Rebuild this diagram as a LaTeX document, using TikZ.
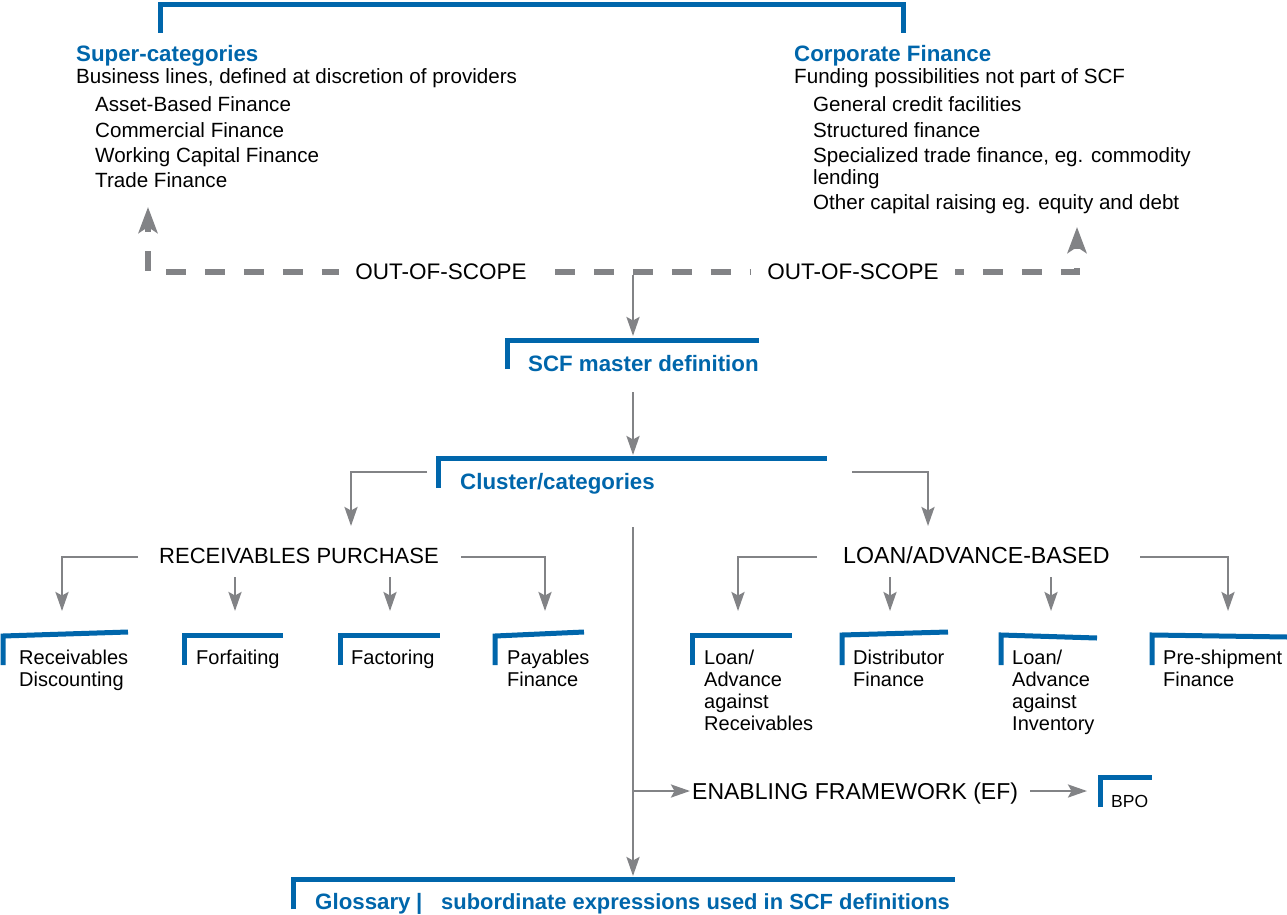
\documentclass[tikz,border=0pt]{standalone}
\usepackage{fontspec}
\setmainfont{Liberation Sans}
\usetikzlibrary{arrows.meta}
\definecolor{scfblue}{RGB}{0,102,171}
\definecolor{scfgray}{RGB}{130,131,134}
\begin{document}
\begin{tikzpicture}[x=1pt,y=-1pt,
  txt/.style={anchor=base west,inner sep=0pt,font=\fontsize{20}{24}\selectfont},
  lst/.style={anchor=base west,inner sep=0pt,font=\fontsize{20.6}{24}\selectfont},
  captxt/.style={anchor=base west,inner sep=0pt,font=\fontsize{22.5}{26}\selectfont},
  head/.style={anchor=base west,inner sep=0pt,text=scfblue,font=\fontsize{22.3}{26}\selectfont\bfseries},
  bbar/.style={draw=scfblue,line width=5pt,line join=miter,line cap=butt},
  garrow/.style={draw=scfgray,line width=2.5pt,-{Stealth[length=19pt,width=13pt,inset=3.5pt]}},
  dline/.style={draw=scfgray,line width=6pt,dash pattern=on 20pt off 18.9pt,dash phase=13pt,line join=miter,
     {Stealth[length=26pt,width=19pt,inset=6pt]}-{Stealth[length=26pt,width=19pt,inset=6pt]}},
  oos/.style={fill=white,inner xsep=16pt,inner ysep=4pt,font=\fontsize{22.5}{26}\selectfont}
]
\useasboundingbox (0,0) rectangle (1287,915);

% ---------- top bracket and super-categories ----------
\draw[bbar] (160,33) -- (160,4.5) -- (903,4.5) -- (903,33);

\node[head] (sc) at (76,62) {Super-categories};
\node[lst] (scd) at (76,84) {Business lines, defined at discretion of providers};
\node[lst] (sc1) at (95,112) {Asset-Based Finance};
\node[lst] (sc2) at (95,137) {Commercial Finance};
\node[lst] (sc3) at (95,162) {Working Capital Finance};
\node[lst] (sc4) at (95,187) {Trade Finance};

\node[head] (cf) at (794,62) {Corporate Finance};
\node[lst] (cfd) at (794,84) {Funding possibilities not part of SCF};
\node[lst] (cf1) at (813,112) {General credit facilities};
\node[lst] (cf2) at (813,137) {Structured finance};
\node[lst] (cf3) at (813,162) {Specialized trade finance, eg. commodity};
\node[lst] (cf3b) at (813,184) {lending};
\node[lst] (cf4) at (813,209) {Other capital raising eg. equity and debt};

% ---------- out-of-scope dashed line ----------
\coordinate (ltip) at (148,207);
\coordinate (lcorner) at (148,272);
\coordinate (rcorner) at (1077,272);
\coordinate (rtip) at (1077,227);
\draw[dline] (ltip) -- (lcorner) -- (rcorner) -- (rtip);
\node[oos] (oos1) at (441,272) {OUT-OF-SCOPE};
\node[oos] (oos2) at (853,272) {OUT-OF-SCOPE};

% ---------- SCF master definition ----------
\coordinate (m1) at (633,275);
\coordinate (m2) at (633,336);
\draw[garrow] (m1) -- (m2);
\draw[bbar] (507,369) -- (507,340) -- (759,340);
\node[head] (master) at (528,371) {SCF master definition};

\coordinate (m3) at (633,392);
\coordinate (m4) at (633,455);
\draw[garrow] (m3) -- (m4);

% ---------- cluster/categories ----------
\draw[bbar] (438,488) -- (438,458.5) -- (827,458.5);
\node[head] (cluster) at (460,489) {Cluster/categories};

\coordinate (cl1) at (427,472);
\coordinate (cl2) at (351,526);
\draw[garrow] (cl1) -| (cl2);
\coordinate (cr1) at (852,472);
\coordinate (cr2) at (928,526);
\draw[garrow] (cr1) -| (cr2);

% ---------- receivables purchase ----------
\node[captxt,font=\fontsize{22}{26}\selectfont] (rp) at (159,563) {RECEIVABLES PURCHASE};
\coordinate (rpl1) at (138,557);
\coordinate (rpl2) at (62,611);
\draw[garrow] (rpl1) -| (rpl2);
\coordinate (rpr1) at (461,557);
\coordinate (rpr2) at (545,611);
\draw[garrow] (rpr1) -| (rpr2);
\coordinate (rpa1) at (235,577);
\coordinate (rpa2) at (235,611);
\draw[garrow] (rpa1) -- (rpa2);
\coordinate (rpb1) at (390,577);
\coordinate (rpb2) at (390,611);
\draw[garrow] (rpb1) -- (rpb2);

\draw[bbar] (3,665) -- (3,636) -- (128,632);
\node[txt] (rd1) at (19,664) {Receivables};
\node[txt] (rd2) at (19,686) {Discounting};
\draw[bbar] (184,665) -- (184,635) -- (283,635);
\node[txt] (forf) at (196,664) {Forfaiting};
\draw[bbar] (340,665) -- (340,635) -- (440,635);
\node[txt] (fact) at (351,664) {Factoring};
\draw[bbar] (495,665) -- (495,636) -- (584,632);
\node[txt] (pf1) at (507,664) {Payables};
\node[txt] (pf2) at (507,686) {Finance};

% ---------- loan/advance-based ----------
\node[captxt,font=\fontsize{23.2}{26}\selectfont] (lab) at (843,563) {LOAN/ADVANCE-BASED};
\coordinate (lal1) at (817,557);
\coordinate (lal2) at (738,611);
\draw[garrow] (lal1) -| (lal2);
\coordinate (lar1) at (1140,557);
\coordinate (lar2) at (1228,611);
\draw[garrow] (lar1) -| (lar2);
\coordinate (laa1) at (890,577);
\coordinate (laa2) at (890,611);
\draw[garrow] (laa1) -- (laa2);
\coordinate (lab1) at (1051,577);
\coordinate (lab2) at (1051,611);
\draw[garrow] (lab1) -- (lab2);

\draw[bbar] (692,665) -- (692,635) -- (792,635);
\node[txt] (lr1) at (704,664) {Loan/};
\node[txt] (lr2) at (704,686) {Advance};
\node[txt] (lr3) at (704,708) {against};
\node[txt] (lr4) at (704,730) {Receivables};
\draw[bbar] (842,665) -- (842,635) -- (948,632);
\node[txt] (df1) at (853,664) {Distributor};
\node[txt] (df2) at (853,686) {Finance};
\draw[bbar] (1001,665) -- (1001,635) -- (1097,638);
\node[txt] (li1) at (1012,664) {Loan/};
\node[txt] (li2) at (1012,686) {Advance};
\node[txt] (li3) at (1012,708) {against};
\node[txt] (li4) at (1012,730) {Inventory};
\draw[bbar] (1152,665) -- (1152,635) -- (1287,637);
\node[txt] (ps1) at (1163,664) {Pre-shipment};
\node[txt] (ps2) at (1163,686) {Finance};

% ---------- central spine, enabling framework, glossary ----------
\coordinate (sp1) at (633,527);
\coordinate (sp2) at (633,876);
\draw[garrow] (sp1) -- (sp2);
\coordinate (ef0) at (633,791);
\coordinate (ef1) at (690,791);
\draw[garrow] (ef0) -- (ef1);
\node[captxt,font=\fontsize{23}{26}\selectfont] (ef) at (692,799) {ENABLING FRAMEWORK (EF)};
\coordinate (bp0) at (1030,791);
\coordinate (bp1) at (1087,791);
\draw[garrow] (bp0) -- (bp1);
\draw[bbar] (1100,807) -- (1100,777) -- (1152,777);
\node[anchor=base west,inner sep=0pt,font=\fontsize{17.5}{20}\selectfont] (bpo) at (1111,807) {BPO};

\draw[bbar] (293,909) -- (293,879.5) -- (955,879.5);
\node[head] (glo1) at (315,909) {Glossary};
\node[head] (glo2) at (416,909) {|};
\node[head,font=\fontsize{21.9}{26}\selectfont\bfseries] (glo3) at (441,909) {subordinate expressions used in SCF definitions};
\end{tikzpicture}
\end{document}
